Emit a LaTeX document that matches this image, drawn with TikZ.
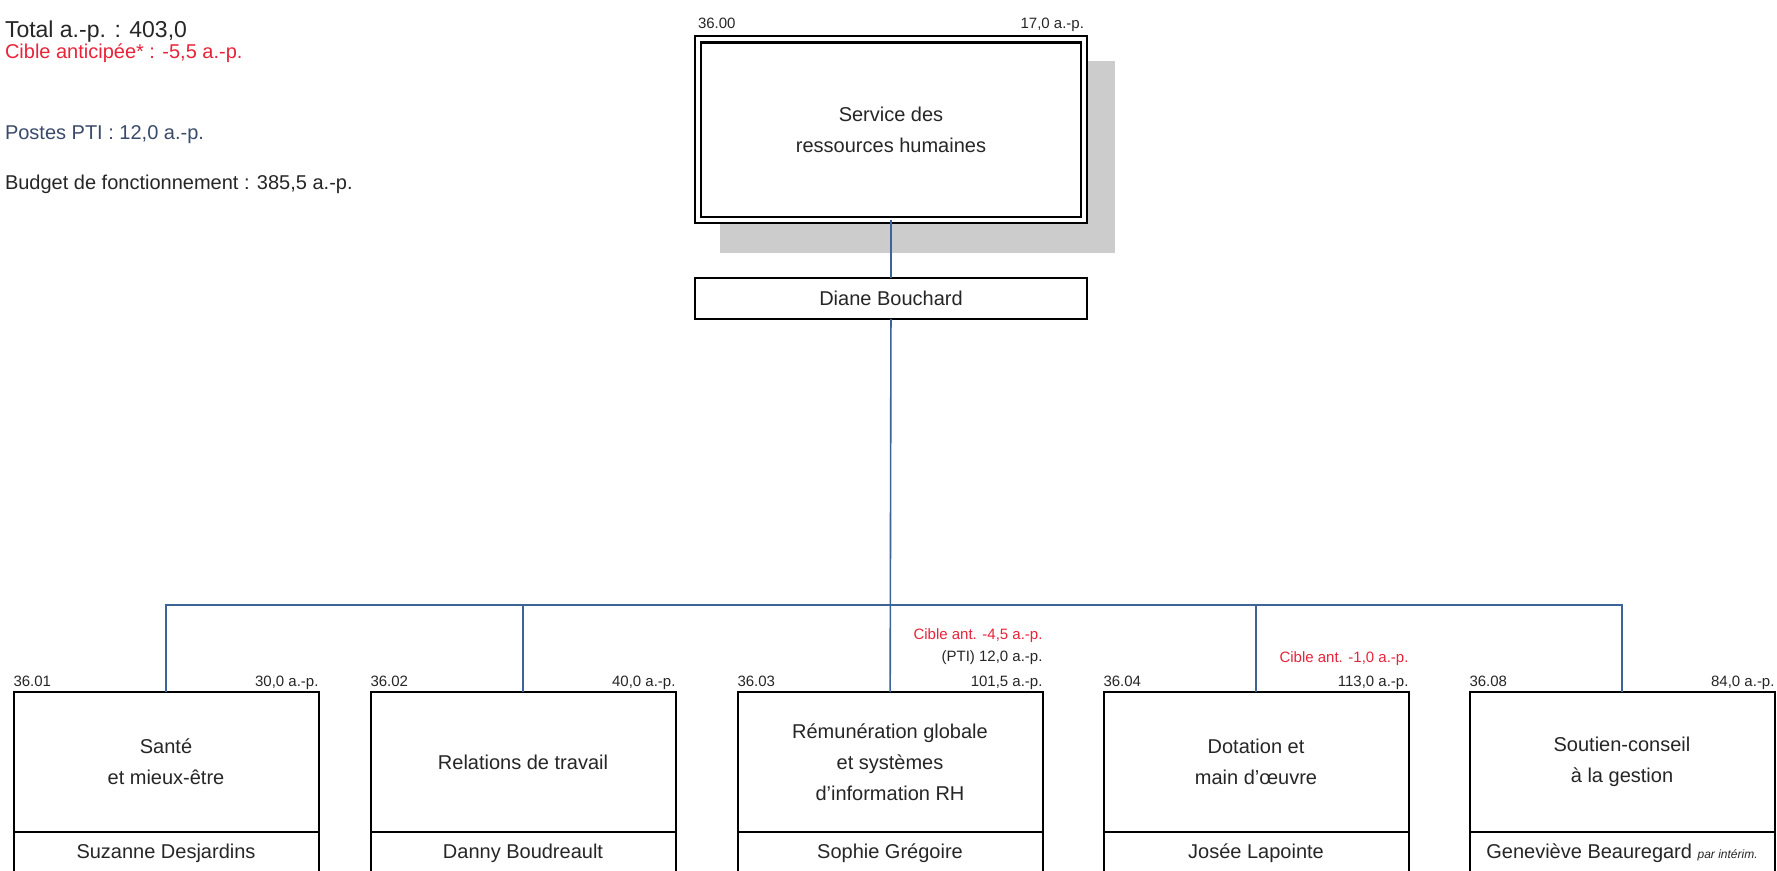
\documentclass[tikz,border=0pt]{standalone}
\usepackage{fontspec}
\setmainfont{Liberation Sans}
\usetikzlibrary{positioning,backgrounds}
\definecolor{linkblue}{HTML}{3C6496}
\definecolor{alertred}{HTML}{E8233A}
\definecolor{ptiblue}{HTML}{3A4A6A}
\definecolor{shadowgray}{HTML}{CCCCCC}
\begin{document}
\begin{tikzpicture}[x=0.5pt,y=-0.5pt,
  every node/.style={font=\fontsize{10}{15.5}\selectfont,text=black!85,inner sep=0pt,outer sep=0pt},
  unit/.style={draw=black,fill=white,line width=1pt,minimum width=152.5pt,minimum height=70pt,align=center},
  who/.style={draw=black,fill=white,line width=1pt,minimum width=152.5pt,minimum height=21.5pt},
  tag/.style={font=\fontsize{7.5}{9}\selectfont},
  note/.style={anchor=base west,font=\fontsize{10}{12}\selectfont},
  link/.style={draw=linkblue,line width=0.8pt}]
\useasboundingbox (0,0) rectangle (1777,871);
% summary in the corner
\node[note,font=\fontsize{11.5}{13}\selectfont] (total) at (5,38) {Total a.-p. : 403,0};
\node[note,text=alertred] (cible) at (5,59) {Cible anticipée* : -5,5 a.-p.};
\node[note,text=ptiblue] (pti) at (5,140) {Postes PTI : 12,0 a.-p.};
\node[note] (budget) at (5,190) {Budget de fonctionnement : 385,5 a.-p.};
% head of the service
\node[unit,double,double distance=2pt,line width=1.1pt,minimum width=193pt,minimum height=90.25pt] (top) at (891,129.75) {Service des\\ressources humaines};
\begin{scope}[on background layer]
\fill[shadowgray] ([xshift=11pt,yshift=-11pt]top.north west) rectangle ([xshift=15.5pt,yshift=-16.5pt]top.south east);
\end{scope}
\node[tag,anchor=base west] (c00) at ([yshift=5.5pt]top.north west) {36.00};
\node[tag,anchor=base east] (a00) at ([yshift=5.5pt]top.north east) {17,0 a.-p.};
\node[who,minimum width=196pt,minimum height=20.5pt,below=29pt of top] (boss) {Diane Bouchard};
% divisions
\node[unit] (u01) at (166,762) {Santé\\et mieux-être};
\node[unit] (u02) at (523,762) {Relations de travail};
\node[unit] (u03) at (890,762) {Rémunération globale\\et systèmes\\d'information RH};
\node[unit] (u04) at (1256,762) {Dotation et\\main d'œuvre};
\node[unit] (u05) at (1622,762) {Soutien-conseil\\à la gestion};
\node[who,below=0pt of u01] (n01) {Suzanne Desjardins};
\node[who,below=0pt of u02] (n02) {Danny Boudreault};
\node[who,below=0pt of u03] (n03) {Sophie Grégoire};
\node[who,below=0pt of u04] (n04) {Josée Lapointe};
\node[who,below=0pt of u05] (n05) {Geneviève Beauregard {\fontsize{6}{7}\selectfont\itshape par intérim.}};
\node[tag,anchor=base west] (c01) at ([yshift=3pt]u01.north west) {36.01};
\node[tag,anchor=base west] (c02) at ([yshift=3pt]u02.north west) {36.02};
\node[tag,anchor=base west] (c03) at ([yshift=3pt]u03.north west) {36.03};
\node[tag,anchor=base west] (c04) at ([yshift=3pt]u04.north west) {36.04};
\node[tag,anchor=base west] (c05) at ([yshift=3pt]u05.north west) {36.08};
\node[tag,anchor=base east] (a01) at ([yshift=3pt]u01.north east) {30,0 a.-p.};
\node[tag,anchor=base east] (a02) at ([yshift=3pt]u02.north east) {40,0 a.-p.};
\node[tag,anchor=base east] (a03) at ([yshift=3pt]u03.north east) {101,5 a.-p.};
\node[tag,anchor=base east] (a04) at ([yshift=3pt]u04.north east) {113,0 a.-p.};
\node[tag,anchor=base east] (a05) at ([yshift=3pt]u05.north east) {84,0 a.-p.};
\node[tag,anchor=base east] (p03) at ([yshift=12.5pt]a03.base east) {(PTI) 12,0 a.-p.};
\node[tag,anchor=base east,text=alertred] (r03) at ([yshift=11pt]p03.base east) {Cible ant. -4,5 a.-p.};
\node[tag,anchor=base east,text=alertred] (r04) at ([yshift=12pt]a04.base east) {Cible ant. -1,0 a.-p.};
% links
\coordinate (bus) at (890,605);
\draw[link] (top) -- (boss);
\draw[link] (boss) -- (u03);
\draw[link] (u01.north) |- (bus) -| (u05.north);
\draw[link] (u02.north) -- (u02.north |- bus);
\draw[link] (u04.north) -- (u04.north |- bus);
\end{tikzpicture}
\end{document}
